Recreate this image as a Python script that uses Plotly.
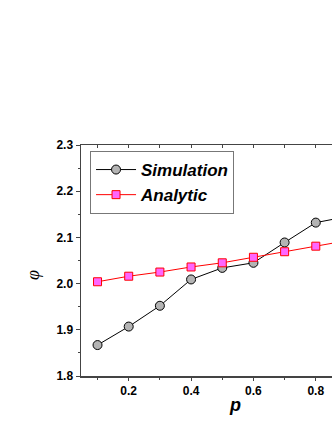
import plotly.graph_objects as go

p_values = [0.1, 0.2, 0.3, 0.4, 0.5, 0.6, 0.7, 0.8, 0.9]
simulation = [1.867, 1.907, 1.952, 2.009, 2.034, 2.045, 2.089, 2.132, 2.145]
analytic = [2.004, 2.016, 2.025, 2.036, 2.045, 2.057, 2.069, 2.081, 2.093]
y_ticks = [1.8, 1.9, 2.0, 2.1, 2.2, 2.3]
y_tick_labels = ["1.8", "1.9", "2.0", "2.1", "2.2", "2.3"]
x_ticks = [0.2, 0.4, 0.6, 0.8]
x_tick_labels = ["0.2", "0.4", "0.6", "0.8"]

font_family = "Liberation Sans, Arial, sans-serif"

fig = go.Figure()
fig.add_trace(go.Scatter(
    x=p_values, y=simulation, name="<b><i>Simulation</i></b>",
    mode="lines+markers",
    line=dict(color="black", width=1),
    marker=dict(symbol="circle", size=9, color="#b4b4b4", line=dict(color="black", width=1)),
))
fig.add_trace(go.Scatter(
    x=p_values, y=analytic, name="<b><i>Analytic</i></b>",
    mode="lines+markers",
    line=dict(color="red", width=1),
    marker=dict(symbol="square", size=8, color="#ff66ff", line=dict(color="red", width=1)),
))
# invisible trace to create the top axis
fig.add_trace(go.Scatter(
    x=p_values, y=analytic, xaxis="x2", mode="markers",
    marker=dict(opacity=0), showlegend=False, hoverinfo="skip",
))

axis_color = "#444444"
fig.update_layout(
    template="none",
    width=332, height=430,
    margin=dict(l=81, r=0, t=145, b=54, autoexpand=False),
    paper_bgcolor="white", plot_bgcolor="white",
    font=dict(family=font_family, color="black"),
    showlegend=True,
    legend=dict(
        x=0.036, y=0.974, xanchor="left", yanchor="top",
        bgcolor="white", bordercolor="#777777", borderwidth=1,
        font=dict(size=17, family=font_family, color="black"),
        itemwidth=40, tracegroupgap=0,
    ),
    xaxis=dict(
        range=[0.047, 0.852], showgrid=False, zeroline=False, automargin=False,
        showline=True, linecolor=axis_color, linewidth=1.5,
        tickmode="array", tickvals=x_ticks, ticktext=["<b>" + t + "</b>" for t in x_tick_labels],
        ticks="outside", ticklen=3, tickwidth=1, tickcolor=axis_color,
        tickfont=dict(size=12, family=font_family, color="black"),
        minor=dict(tickmode="linear", dtick=0.1, tick0=0.1, ticks="outside", ticklen=2, tickcolor=axis_color),
    ),
    xaxis2=dict(
        range=[0.047, 0.852], overlaying="x", side="top", anchor="y", automargin=False,
        showgrid=False, zeroline=False, showticklabels=False,
        showline=True, linecolor=axis_color, linewidth=1.5,
        tickmode="linear", tick0=0.1, dtick=0.1,
        ticks="inside", ticklen=3, tickwidth=1, tickcolor=axis_color,
    ),
    yaxis=dict(
        range=[1.8, 2.3], showgrid=False, zeroline=False, automargin=False,
        showline=True, linecolor=axis_color, linewidth=1.5,
        tickmode="array", tickvals=y_ticks, ticktext=["<b>" + t + "</b>" for t in y_tick_labels],
        ticks="outside", ticklen=4, tickwidth=1, tickcolor=axis_color,
        tickfont=dict(size=12, family=font_family, color="black"),
        minor=dict(tickmode="linear", dtick=0.05, tick0=1.8, ticks="outside", ticklen=2, tickcolor=axis_color),
    ),
    annotations=[
        dict(text="<b><i>p</i></b>", xref="paper", yref="paper",
             x=(235 - 81) / 251, y=-0.125, xanchor="center", yanchor="middle",
             showarrow=False, font=dict(size=18, family=font_family, color="black")),
        dict(text="<i>φ</i>", xref="paper", yref="paper",
             x=(33 - 81) / 251, y=(376 - 275) / 231, xanchor="center", yanchor="middle",
             showarrow=False, textangle=-90, font=dict(size=18, family="Liberation Serif, serif", color="black")),
    ],
)

fig.write_html(
    "out.html",
    config={"displayModeBar": False, "staticPlot": True},
    post_script="document.body.style.margin='0';document.body.style.overflow='hidden';",
)
